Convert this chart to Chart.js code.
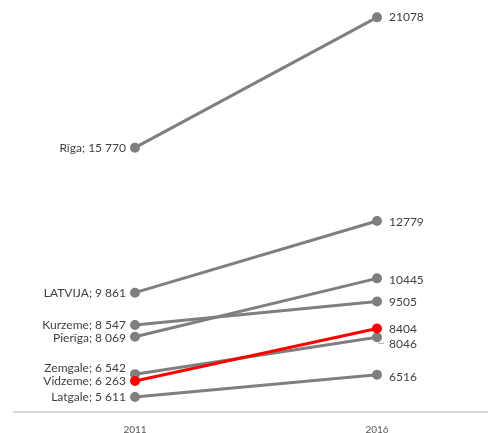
<!DOCTYPE html>
<html>
<head>
<meta charset="utf-8">
<script src="https://cdn.jsdelivr.net/npm/chart.js@4.4.1/dist/chart.umd.min.js"></script>
<style>
    body {
        margin: 0;
        overflow: hidden;
        background: #ffffff;
    }
    .wrap {
        width: 510px;
        height: 433px;
    }
</style>
</head>
<body>
<div class="wrap"><canvas id="slope"></canvas></div>
<script>
const years = ['2011', '2016'];
const regions = ['Rīga', 'LATVIJA', 'Kurzeme', 'Pierīga', 'Zemgale', 'Vidzeme', 'Latgale'];
const values2011 = [15770, 9861, 8547, 8069, 6542, 6263, 5611];
const values2016 = [21078, 12779, 9505, 10445, 8046, 8404, 6516];
const highlight = 'Vidzeme';

// label nudges (px) where Excel moved labels apart
const leftShift = { 'Zemgale': -6, 'Pierīga': 1 };
const rightShift = { 'LATVIJA': 1, 'Kurzeme': 1, 'Pierīga': 2, 'Vidzeme': 1, 'Zemgale': 7, 'Latgale': 2 };

const GREY = '#7f7f7f';
const RED = '#ff0000';
const FONT = '"Lato", "Open Sans", sans-serif';

function spaced(n) {
    return String(n).replace(/\B(?=(\d{3})+(?!\d))/g, ' ');
}

const datasets = regions.map((name, i) => {
    const c = name === highlight ? RED : GREY;
    return {
        label: name,
        data: [values2011[i], values2016[i]],
        borderColor: c,
        backgroundColor: c,
        pointBackgroundColor: c,
        pointBorderColor: c,
        borderWidth: 3,
        pointRadius: 3.5,
        order: name === highlight ? -1 : 0
    };
});

const labelPlugin = {
    id: 'slopeLabels',
    afterDatasetsDraw(chart) {
        const ctx = chart.ctx;
        ctx.save();
        ctx.font = '12px ' + FONT;
        ctx.fillStyle = '#404040';
        ctx.textBaseline = 'middle';
        chart.data.datasets.forEach((ds, i) => {
            const pts = chart.getDatasetMeta(i).data;
            const name = ds.label;
            ctx.textAlign = 'right';
            ctx.fillText(name + '; ' + spaced(ds.data[0]), pts[0].x - 9, pts[0].y + (leftShift[name] || 0));
            ctx.textAlign = 'left';
            const dy = rightShift[name] || 0;
            ctx.fillText(String(ds.data[1]), pts[1].x + 12, pts[1].y + dy);
            if (dy > 4) {
                // small leader line for the displaced label
                ctx.strokeStyle = '#a6a6a6';
                ctx.lineWidth = 1;
                ctx.beginPath();
                ctx.moveTo(pts[1].x + 1, pts[1].y + dy - 1);
                ctx.lineTo(pts[1].x + 7, pts[1].y + dy - 1);
                ctx.stroke();
            }
        });
        ctx.restore();
    }
};

new Chart(document.getElementById('slope'), {
    type: 'line',
    data: {
        labels: years,
        datasets: datasets
    },
    options: {
        responsive: true,
        maintainAspectRatio: false,
        animation: false,
        layout: {
            padding: { left: 14, right: 12, top: 7, bottom: 0 }
        },
        plugins: {
            legend: { display: false },
            tooltip: { enabled: false }
        },
        scales: {
            x: {
                offset: true,
                grid: { display: false },
                border: { display: true, color: '#d9d9d9', width: 2 },
                ticks: {
                    color: '#595959',
                    padding: 4,
                    maxRotation: 0,
                    font: { family: FONT, size: 10 }
                },
                afterFit(scale) {
                    scale.height = 21;
                }
            },
            y: {
                display: false,
                min: 5000,
                max: 21500
            }
        }
    },
    plugins: [labelPlugin]
});
</script>
</body>
</html>
